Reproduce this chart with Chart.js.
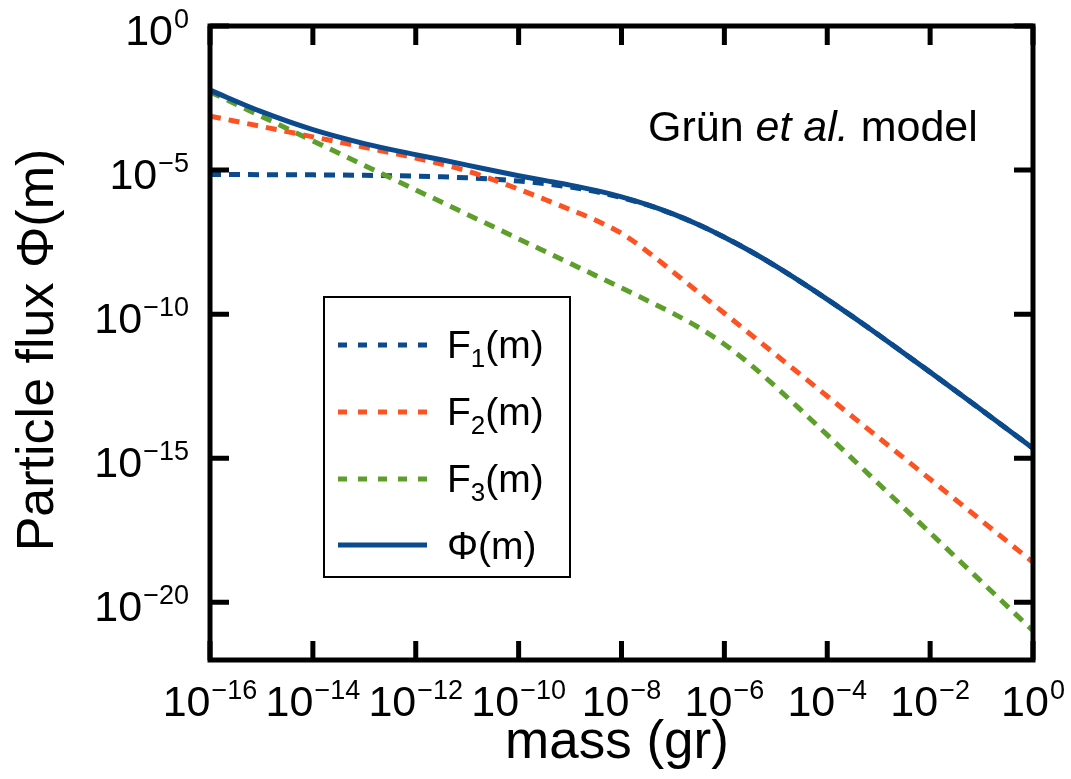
<!DOCTYPE html>
<html><head><meta charset="utf-8">
<script src="https://cdn.jsdelivr.net/npm/chart.js@4"></script>
<style>html,body{margin:0;padding:0;background:#fff}#wrap{width:1071px;height:779px;position:relative}</style>
</head><body><div id="wrap"><canvas id="c"></canvas></div>
<script>
// mass sample points (log10 of mass in gr)
const massExp = [-16,-15,-14,-13,-12,-11.5,-11,-10.5,-10,-9.5,-9,-8.5,-8,-7.5,-7,-6.5,-6,-5.5,-5,-4.5,-4,-3.5,-3,-2,-1,0];
// flux values (log10)
const f1Exp = [-5.155,-5.158,-5.166,-5.180,-5.210,-5.234,-5.268,-5.315,-5.380,-5.469,-5.588,-5.747,-5.951,-6.209,-6.524,-6.898,-7.328,-7.809,-8.334,-8.896,-9.484,-10.095,-10.724,-12.011,-13.326,-14.653];
const f2Exp = [-3.126,-3.486,-3.846,-4.208,-4.581,-4.789,-5.034,-5.329,-5.661,-6.011,-6.369,-6.741,-7.194,-7.821,-8.528,-9.246,-9.966,-10.686,-11.406,-12.126,-12.846,-13.566,-14.286,-15.726,-17.166,-18.606];
const f3Exp = [-2.286,-3.136,-3.986,-4.836,-5.686,-6.111,-6.536,-6.961,-7.386,-7.811,-8.236,-8.662,-9.090,-9.523,-9.971,-10.462,-11.042,-11.737,-12.521,-13.348,-14.190,-15.037,-15.886,-17.586,-19.286,-20.986];
const phiExp = [-2.227,-2.973,-3.597,-4.080,-4.464,-4.641,-4.826,-5.016,-5.194,-5.358,-5.521,-5.705,-5.927,-6.198,-6.520,-6.896,-7.327,-7.808,-8.334,-8.896,-9.484,-10.095,-10.724,-12.011,-13.326,-14.653];
// tick labels (exponents of 10)
const xTickExps = [-16,-14,-12,-10,-8,-6,-4,-2,0];
const yTickExps = [0,-5,-10,-15,-20];
const seriesNames = ['F1(m)','F2(m)','F3(m)','\u03A6(m)'];

const FONT = "'Liberation Sans', Arial, Helvetica, sans-serif";
const C_BLUE = '#0b4a8c', C_RED = '#fd5222', C_GREEN = '#5e9f2c';
const DASH = [11, 8];

function pts(exps){ return massExp.map((m,i)=>({x: Math.pow(10,m), y: Math.pow(10,exps[i])})); }

function powLabel(ctx, exp, x, y, align){
  const base = '10', sup = exp < 0 ? '\u2212' + (-exp) : String(exp);
  ctx.font = '43px ' + FONT; const wb = ctx.measureText(base).width;
  ctx.font = '27px ' + FONT; const ws = ctx.measureText(sup).width;
  const total = wb + ws + 1;
  let x0 = align === 'center' ? x - total/2 : (align === 'right' ? x - total : x);
  ctx.textAlign = 'left'; ctx.textBaseline = 'alphabetic'; ctx.fillStyle = '#000';
  ctx.font = '43px ' + FONT; ctx.fillText(base, x0, y);
  ctx.font = '27px ' + FONT; ctx.fillText(sup, x0 + wb + 1, y - 17);
}

const deco = {
  id: 'deco',
  afterDatasetsDraw(chart){
    const ctx = chart.ctx, a = chart.chartArea, xs = chart.scales.x, ys = chart.scales.y;
    ctx.save();
    // frame
    ctx.strokeStyle = '#000'; ctx.lineWidth = 5; ctx.lineJoin = 'miter'; ctx.setLineDash([]);
    ctx.strokeRect(a.left, a.top, a.right - a.left, a.bottom - a.top);
    // inward ticks
    const TL = 19;
    ctx.beginPath();
    xTickExps.forEach(e => {
      const px = xs.getPixelForValue(Math.pow(10, e));
      ctx.moveTo(px, a.bottom); ctx.lineTo(px, a.bottom - TL);
      ctx.moveTo(px, a.top); ctx.lineTo(px, a.top + TL);
    });
    yTickExps.forEach(e => {
      const py = ys.getPixelForValue(Math.pow(10, e));
      ctx.moveTo(a.left, py); ctx.lineTo(a.left + TL, py);
      ctx.moveTo(a.right, py); ctx.lineTo(a.right - TL, py);
    });
    ctx.stroke();
    // tick labels
    xTickExps.forEach(e => powLabel(ctx, e, xs.getPixelForValue(Math.pow(10, e)), a.bottom + 56, 'center'));
    yTickExps.forEach(e => powLabel(ctx, e, a.left - 21, ys.getPixelForValue(Math.pow(10, e)) + 19, 'right'));
    // axis titles
    ctx.fillStyle = '#000'; ctx.textBaseline = 'alphabetic';
    ctx.font = '53px ' + FONT; ctx.textAlign = 'center';
    ctx.fillText('mass (gr)', 617, 758);
    ctx.save(); ctx.translate(53, 350); ctx.rotate(-Math.PI/2);
    ctx.font = '52px ' + FONT; ctx.fillText('Particle flux \u03A6(m)', 0, 0); ctx.restore();
    // annotation
    ctx.textAlign = 'left';
    let ax = 648;
    const parts = [['Gr\u00FCn ', ''], ['et al.', 'italic '], [' model', '']];
    parts.forEach(p => { ctx.font = p[1] + '43px ' + FONT; ctx.fillText(p[0], ax, 141); ax += ctx.measureText(p[0]).width; });
    // legend
    const bx = 324, by = 297, bw = 246, bh = 280;
    ctx.fillStyle = '#fff'; ctx.fillRect(bx, by, bw, bh);
    ctx.strokeStyle = '#000'; ctx.lineWidth = 2; ctx.strokeRect(bx, by, bw, bh);
    const rows = [345, 412, 479, 545];
    const cols = [C_BLUE, C_RED, C_GREEN, C_BLUE];
    rows.forEach((ry, i) => {
      ctx.strokeStyle = cols[i]; ctx.lineWidth = 5; ctx.lineCap = 'butt';
      ctx.setLineDash(i < 3 ? [9, 11] : []);
      ctx.beginPath(); ctx.moveTo(338, ry); ctx.lineTo(427, ry); ctx.stroke();
      ctx.setLineDash([]);
      ctx.fillStyle = '#000';
      const name = seriesNames[i];
      if (i < 3) {
        const bl = ry + 13;
        ctx.font = '39px ' + FONT; ctx.fillText('F', 447, bl);
        let x = 447 + ctx.measureText('F').width;
        ctx.font = '26px ' + FONT; ctx.fillText(name.charAt(1), x, bl + 9);
        x += ctx.measureText(name.charAt(1)).width;
        ctx.font = '39px ' + FONT; ctx.fillText(name.slice(2), x, bl);
      } else {
        ctx.font = '39px ' + FONT; ctx.fillText(name, 447, ry + 14);
      }
    });
    ctx.restore();
  }
};

const common = {fill:false, pointRadius:0, borderWidth:5, cubicInterpolationMode:'monotone', borderCapStyle:'butt'};
new Chart(document.getElementById('c'), {
  type: 'line',
  data: {
    datasets: [
      Object.assign({label: seriesNames[0], data: pts(f1Exp), borderColor: C_BLUE, borderDash: DASH, order: 4}, common),
      Object.assign({label: seriesNames[1], data: pts(f2Exp), borderColor: C_RED, borderDash: DASH, order: 2}, common),
      Object.assign({label: seriesNames[2], data: pts(f3Exp), borderColor: C_GREEN, borderDash: DASH, order: 3}, common),
      Object.assign({label: seriesNames[3], data: pts(phiExp), borderColor: C_BLUE, order: 1}, common)
    ]
  },
  options: {
    responsive: true, maintainAspectRatio: false, animation: false,
    layout: {padding: {left: 210, right: 38, top: 26, bottom: 119}},
    plugins: {legend: {display: false}, tooltip: {enabled: false}},
    scales: {
      x: {type: 'logarithmic', min: 1e-16, max: 1, display: false},
      y: {type: 'logarithmic', min: 1e-22, max: 1, display: false}
    }
  },
  plugins: [deco]
});
</script></body></html>
